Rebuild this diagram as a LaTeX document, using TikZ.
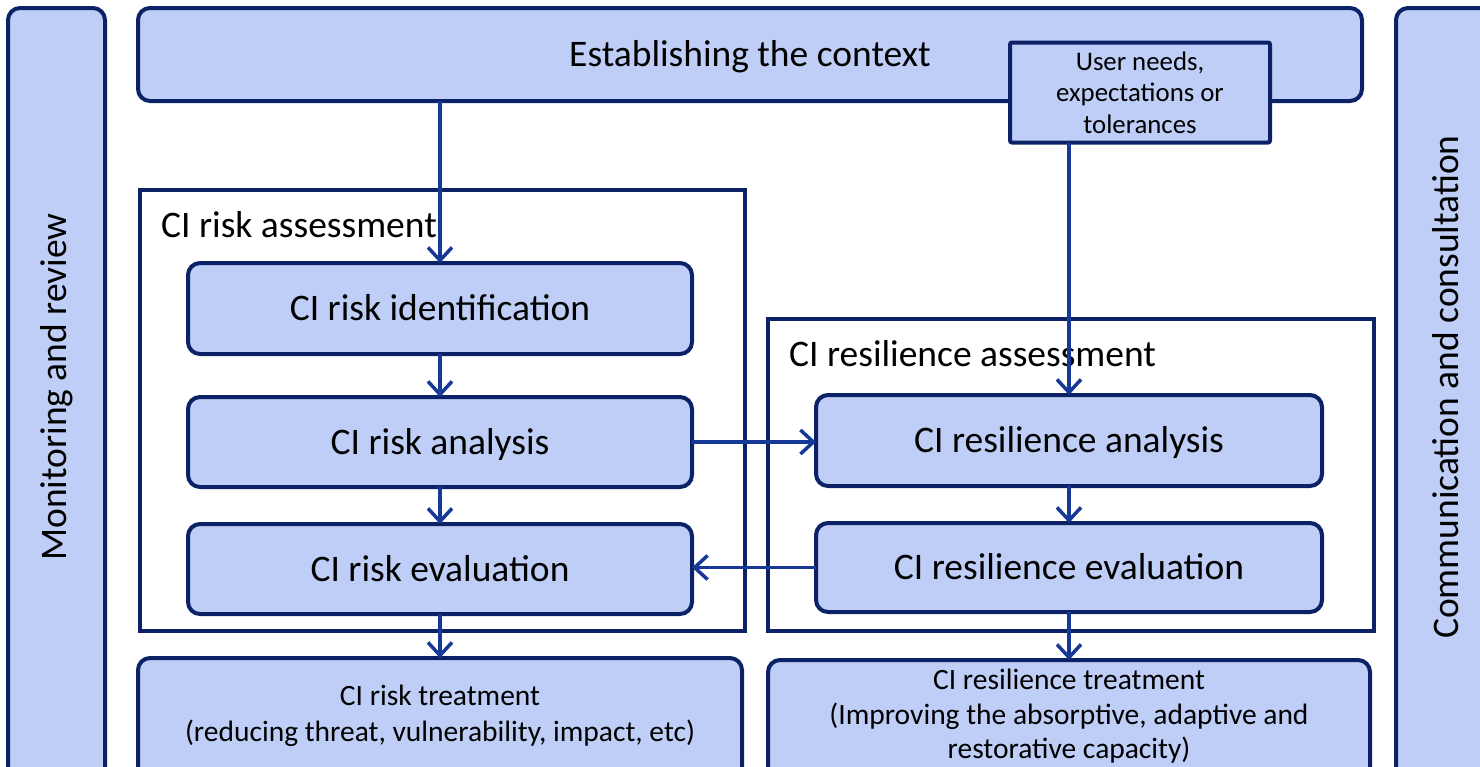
\documentclass[tikz,border=0pt]{standalone}
\usepackage{fontspec}
\setmainfont{Carlito}
\usetikzlibrary{arrows.meta}
\definecolor{navy}{HTML}{0B2366}
\definecolor{lightblue}{HTML}{BFCEF6}
\definecolor{arrowblue}{HTML}{163896}
\tikzset{
  bluebox/.style={draw=navy, line width=4pt, fill=lightblue, rounded corners=12pt, inner sep=0pt, outer sep=0pt, align=center, font=\fontsize{37.5}{45}\selectfont},
  oneline/.style={text height=29.5pt, text depth=5.5pt},
  container/.style={draw=navy, line width=4pt, fill=white, inner sep=0pt, outer sep=0pt},
  bigtext/.style={font=\fontsize{37.5}{45}\selectfont, inner sep=0pt},
  smalltext/.style={font=\fontsize{29.5}{34.5}\selectfont, align=center, inner sep=0pt},
  arr/.style={draw=arrowblue, line width=3.5pt, -{Straight Barb[length=13pt,width=24pt]}},
}
\begin{document}
\begin{tikzpicture}[x=1pt,y=-1pt]
\path[use as bounding box, fill=white] (0,0) rectangle (1480,766);
\clip (0,0) rectangle (1480,766);

% side boxes
\node[bluebox, minimum width=97pt, minimum height=784pt] (mon) at (56.5,400) {};
\node[bigtext, rotate=90] (montext) at (57,387) {Monitoring and review};
\node[bluebox, minimum width=104pt, minimum height=784pt] (com) at (1448,400) {};
\node[bigtext, rotate=90] (comtext) at (1446,387) {Communication and consultation};

% top box
\node[bluebox, oneline, minimum width=1224pt, minimum height=93pt] (ctx) at (750,54.5) {Establishing the context};
\node[bluebox, rounded corners=2pt, minimum width=260pt, minimum height=100pt, font=\fontsize{26.8}{31.5}\selectfont] (user) at (1140,92.5) {User needs,\\expectations or\\tolerances};

% containers
\node[container, minimum width=605pt, minimum height=441pt] (riskA) at (442.5,410.5) {};
\node[bigtext, anchor=base west] (riskAlabel) at (161,237) {CI risk assessment};
\node[container, minimum width=606pt, minimum height=312pt] (resA) at (1071,475) {};
\node[bigtext, anchor=base west] (resAlabel) at (789,366) {CI resilience assessment};

% risk boxes
\node[bluebox, oneline, minimum width=504pt, minimum height=91pt] (rid) at (440,308.5) {CI risk identification};
\node[bluebox, oneline, minimum width=504pt, minimum height=90pt] (ran) at (440,442) {CI risk analysis};
\node[bluebox, oneline, minimum width=504pt, minimum height=90pt] (rev) at (440,569) {CI risk evaluation};
\node[bluebox, minimum width=604pt, minimum height=132pt] (rtr) at (440,724) {};
\node[smalltext, font=\fontsize{29.5}{36}\selectfont] (rtrtext) at (440,716) {CI risk treatment\\(reducing threat, vulnerability, impact, etc)};

% resilience boxes
\node[bluebox, oneline, minimum width=506pt, minimum height=91pt] (san) at (1069,440.5) {CI resilience analysis};
\node[bluebox, oneline, minimum width=506pt, minimum height=89pt] (sev) at (1069,567.5) {CI resilience evaluation};
\node[bluebox, minimum width=602pt, minimum height=130pt] (str) at (1069,725) {};
\node[smalltext] (strtext) at (1069,716.5) {CI resilience treatment\\(Improving the absorptive, adaptive and\\restorative capacity)};

% arrows
\draw[arr] (rid.north |- ctx.south) -- (rid.north);
\draw[arr] (rid.south) -- (ran.north);
\draw[arr] (ran.south) -- (rev.north);
\draw[arr] (rev.south) -- (rtr.north);
\draw[arr] (san.north |- user.south) -- (san.north);
\draw[arr] (san.south) -- (sev.north);
\draw[arr] (sev.south) -- (str.north);
\draw[arr] (ran.east) -- (ran.east -| san.west);
\draw[arr] (sev.west) -- (sev.west -| rev.east);
\end{tikzpicture}
\end{document}
